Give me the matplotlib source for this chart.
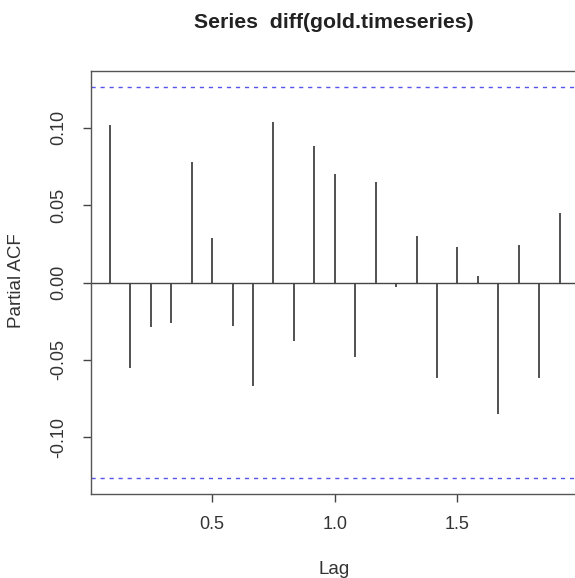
import matplotlib
matplotlib.use("Agg")
import matplotlib.pyplot as plt
import numpy as np

# PACF of diff(gold.timeseries), monthly series -> lags in years
lags = np.arange(1, 25) / 12.0
pacf_vals = [
    0.102, -0.055, -0.029, -0.026, 0.078, 0.029, -0.028, -0.067,
    0.104, -0.038, 0.088, 0.070, -0.048, 0.065, -0.003, 0.030,
    -0.062, 0.023, 0.004, -0.085, 0.024, -0.062, 0.045, 0.010,
]
n_obs = 240
conf = 1.96 / np.sqrt(n_obs)

x_ticks = [0.5, 1.0, 1.5]
x_ticklabels = ["0.5", "1.0", "1.5"]
y_ticks = [-0.10, -0.05, 0.0, 0.05, 0.10]
y_ticklabels = ["-0.10", "-0.05", "0.00", "0.05", "0.10"]

plt.rcParams["font.family"] = ["Liberation Sans", "DejaVu Sans"]

fig = plt.figure(figsize=(5.75, 5.78), dpi=100)
# plot region runs past the right edge of the picture (cropped R output)
ax = fig.add_axes([91 / 575, 1 - 494 / 578, 508 / 575, 423 / 578])

ax.vlines(lags, 0, pacf_vals, color="#222222", linewidth=1.1)
ax.axhline(0, color="#444444", linewidth=1.0)
for c in (conf, -conf):
    ax.axhline(c, color="#5555ee", linewidth=1.0, linestyle=(0, (3, 3.5)))

rng = lags.max() - lags.min()
ax.set_xlim(lags.min() - 0.04 * rng, lags.max() + 0.04 * rng)
ylim = 1.08 * conf
ax.set_ylim(-ylim, ylim)

ax.set_xticks(x_ticks)
ax.set_xticklabels(x_ticklabels, fontsize=13, color="#333333")
ax.set_yticks(y_ticks)
ax.set_yticklabels(y_ticklabels, fontsize=13, color="#333333", rotation=90, va="center")
ax.tick_params(axis="both", direction="out", length=6, width=1, color="#444444")
ax.tick_params(axis="x", pad=10)
ax.tick_params(axis="y", pad=11)

for s in ax.spines.values():
    s.set_color("#555555")
    s.set_linewidth(1.0)

fig.text(17 / 575, 1 - 281 / 578, "Partial ACF", rotation=90,
         ha="center", va="center", fontsize=13.5, color="#333333")
fig.text(334 / 575, 1 - 569 / 578, "Lag", ha="center", va="center",
         fontsize=13.5, color="#333333")
fig.text(334 / 575, 1 - 22 / 578, "Series  diff(gold.timeseries)", ha="center",
         va="center", fontsize=15.3, fontweight="bold", color="#222222")

fig.savefig("out.png", dpi=100)
